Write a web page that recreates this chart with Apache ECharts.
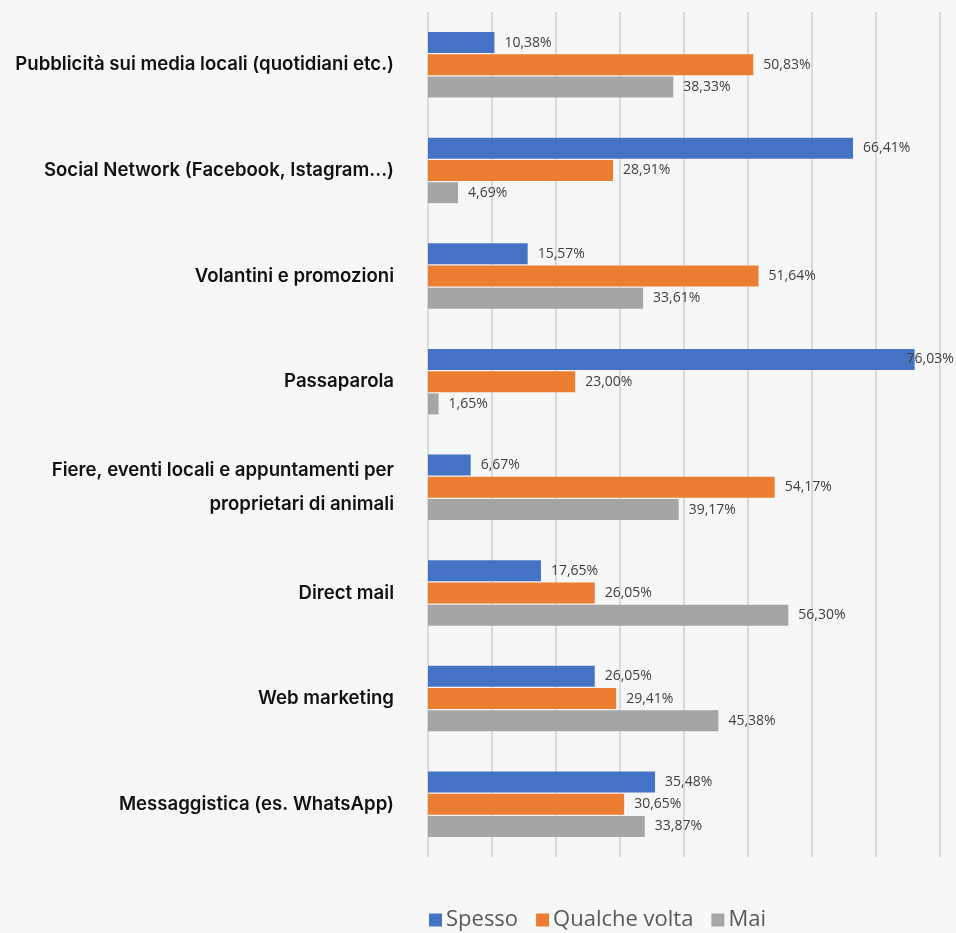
<!DOCTYPE html>
<html><head><meta charset="utf-8">
<script src="https://cdn.jsdelivr.net/npm/echarts@6/dist/echarts.min.js"></script>
<style>html,body{margin:0;padding:0;background:#f7f7f7}#c{width:956px;height:933px}</style>
</head><body><div id="c"></div>
<script>
const categories = [
  "Pubblicità sui media locali (quotidiani etc.)",
  "Social Network (Facebook, Istagram...)",
  "Volantini e promozioni",
  "Passaparola",
  "Fiere, eventi locali e appuntamenti per\nproprietari di animali",
  "Direct mail",
  "Web marketing",
  "Messaggistica (es. WhatsApp)"
];
const spesso = [10.38, 66.41, 15.57, 76.03, 6.67, 17.65, 26.05, 35.48];
const qualcheVolta = [50.83, 28.91, 51.64, 23.00, 54.17, 26.05, 29.41, 30.65];
const mai = [38.33, 4.69, 33.61, 1.65, 39.17, 56.30, 45.38, 33.87];
const seriesNames = ["Spesso", "Qualche volta", "Mai"];
const colors = ["#4472c4", "#ed7d31", "#a5a5a5"];

const fmt = v => v.toFixed(2).replace('.', ',') + '%';
function mk(name, arr, color) {
  return {
    name, type: 'bar', data: arr.map(v => v > 75 ? {value: v, label: {offset: [-18, 0]}} : v),
    itemStyle: {color},
    barCategoryGap: '38%', barGap: '6%',
    label: {show: true, position: 'right', distance: 10, formatter: p => fmt(p.value),
      fontFamily: 'Open Sans', fontSize: 14, color: '#404040'}
  };
}
const chart = echarts.init(document.getElementById('c'));
chart.setOption({
  backgroundColor: '#f7f7f7',
  animation: false,
  grid: {left: 428, right: 16, top: 12, bottom: 76, containLabel: false},
  xAxis: {type: 'value', min: 0, max: 80, interval: 10,
    axisLabel: {show: false}, axisLine: {show: false}, axisTick: {show: false},
    splitLine: {show: true, lineStyle: {color: '#d9d9d9', width: 2}}},
  yAxis: {type: 'category', data: categories, inverse: true,
    axisLine: {show: false}, axisTick: {show: false},
    axisLabel: {margin: 34, fontFamily: 'Inter', fontWeight: 600, fontSize: 18.6, color: '#111', lineHeight: 34}},
  legend: {data: seriesNames, left: 424, bottom: -3, itemWidth: 13, itemHeight: 13, itemGap: 18,
    icon: 'rect', textStyle: {fontFamily: 'Open Sans', fontSize: 22, color: '#595959', padding: [0,0,0,-1]}},
  series: [mk(seriesNames[0], spesso, colors[0]), mk(seriesNames[1], qualcheVolta, colors[1]), mk(seriesNames[2], mai, colors[2])]
});
</script></body></html>
